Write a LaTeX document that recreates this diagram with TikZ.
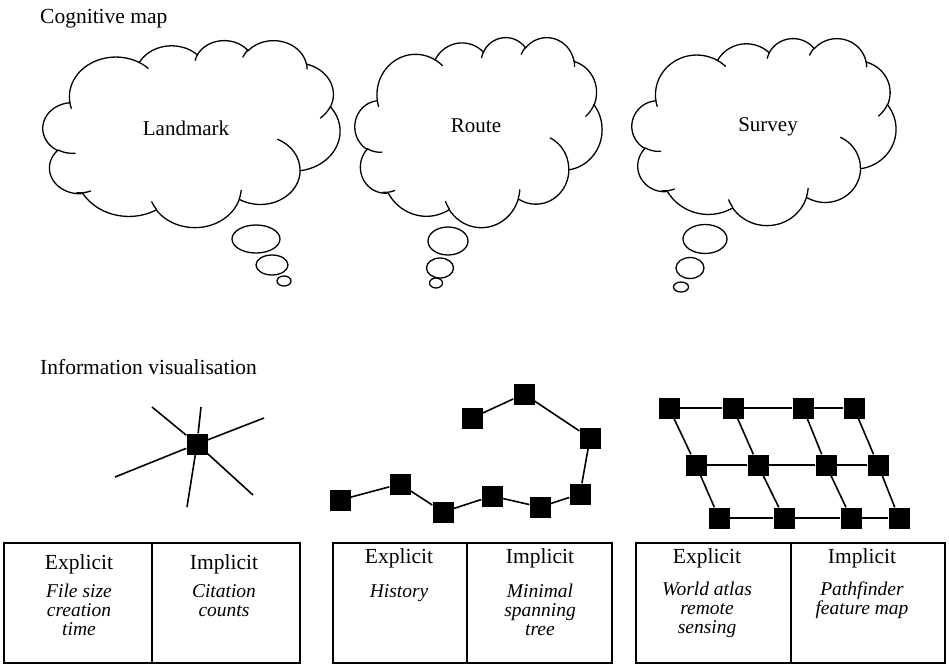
\documentclass[tikz,border=0pt]{standalone}
\usepackage{fontspec}
\setmainfont{Liberation Serif}
% ---------- cloud (office cloud callout geometry, units /10 of 43200) ----------
\newcommand\cldmove[2]{%
  \pgfmathsetmacro\cpx{\cox+#1*\csx}%
  \pgfmathsetmacro\cpy{\coy+#2*\csy}}
\newcommand\cldarc[4]{%
  \pgfmathsetmacro\crx{#1*\csx}%
  \pgfmathsetmacro\cry{#2*\csy}%
  \pgfmathsetmacro\cta{atan2(#1*sin(#3),#2*cos(#3))}%
  \pgfmathsetmacro\ctb{atan2(#1*sin(#3+#4),#2*cos(#3+#4))}%
  \pgfmathsetmacro\cte{\cta+mod(\ctb-\cta+720,360)}%
  \pgfmathsetmacro\ccx{\cpx-\crx*cos(\cta)}%
  \pgfmathsetmacro\ccy{\cpy-\cry*sin(\cta)}%
  \draw[cloudline] plot[domain=\cta:\cte,samples=40] ({\ccx+\crx*cos(\x)},{\ccy+\cry*sin(\x)});%
  \pgfmathsetmacro\cpx{\ccx+\crx*cos(\cte)}%
  \pgfmathsetmacro\cpy{\ccy+\cry*sin(\cte)}}
\newcommand\drawcloud[4]{%
  \def\cox{#1}\def\coy{#2}%
  \pgfmathsetmacro\csx{#3/4320}\pgfmathsetmacro\csy{#4/4320}%
  \cldmove{390.0}{1437.0}%
  \cldarc{675.3}{919.0}{-190.4875}{123.7805}%
  \cldarc{533.3}{726.7}{-144.1024}{89.9452}%
  \cldarc{436.5}{594.5}{-145.8079}{99.7230}%
  \cldarc{485.7}{659.5}{-130.9861}{117.2417}%
  \cldarc{533.3}{727.3}{-78.7089}{109.0269}%
  \cldarc{677.5}{922.0}{-46.2673}{130.2690}%
  \cldarc{578.5}{786.7}{0.6250}{114.0333}%
  \cldarc{675.2}{921.5}{22.4516}{115.1726}%
  \cldarc{772.0}{1054.3}{66.2426}{75.7110}%
  \cldarc{436.0}{591.8}{-274.9421}{146.7356}%
  \cldarc{434.5}{594.5}{-246.8285}{152.5189}%
  \cldmove{469.3}{2617.7}\cldarc{434.5}{594.5}{86.7420}{26.4295}%
  \cldmove{692.8}{3489.9}\cldarc{436.0}{591.8}{73.6033}{20.2039}%
  \cldmove{1647.8}{3909.0}\cldarc{675.2}{921.5}{137.6242}{13.7342}%
  \cldmove{2882.7}{3475.1}\cldarc{675.2}{921.5}{6.4533}{15.9984}%
  \cldmove{3412.9}{2295.4}\cldarc{578.5}{786.7}{-70.2924}{70.9174}%
  \cldmove{4179.8}{1535.4}\cldarc{533.3}{727.3}{30.3180}{27.7515}%
  \cldmove{3832.4}{542.6}\cldarc{485.7}{659.5}{-13.7443}{14.8589}%
  \cldmove{2907.8}{395.2}\cldarc{485.7}{659.5}{-149.1815}{18.1954}%
  \cldmove{2214.1}{472.0}\cldarc{436.5}{594.5}{-163.4943}{17.6864}%
  \cldmove{1400.0}{519.2}\cldarc{675.3}{919.0}{-66.7070}{12.3194}%
  \cldmove{412.7}{1578.9}\cldarc{675.3}{919.0}{157.6544}{11.8582}%
}
\begin{document}
\begin{tikzpicture}[x=1pt,y=-1pt,
  cloudline/.style={line width=1.3pt,line cap=round,line join=round},
  bubble/.style={line width=1.3pt},
  sq/.style={fill=black,draw=none,minimum size=21pt,inner sep=0pt},
  edge/.style={line width=1.6pt},
  spoke/.style={line width=1.6pt},
  tbl/.style={line width=1.6pt},
  title/.style={font=\fontsize{21.5}{21.5}\selectfont,inner sep=0pt,anchor=base west},
  cloudtxt/.style={font=\fontsize{21}{21}\selectfont,inner sep=0pt},
  head/.style={font=\fontsize{21.5}{21.5}\selectfont,inner sep=0pt,anchor=base},
  body/.style={font=\fontsize{19.5}{18.8}\selectfont\itshape,inner sep=0pt,align=center,anchor=base}]
\useasboundingbox (0,0) rectangle (949,664);

% titles
\node[title] (tcog) at (40,23) {Cognitive map};
\node[title] (tinf) at (40,374) {Information visualisation};

% clouds
\drawcloud{43}{40}{297}{187}
\drawcloud{355}{37}{247}{190}
\drawcloud{632}{38}{264}{187}
\node[cloudtxt] (land) at (186,128) {Landmark};
\node[cloudtxt] (route) at (476,126) {Route};
\node[cloudtxt] (surv) at (768,127) {Survey};

% thought bubbles
\draw[bubble] (256,239) ellipse [x radius=24,y radius=14];
\draw[bubble] (272,265) ellipse [x radius=16,y radius=10];
\draw[bubble] (284,281) ellipse [x radius=7,y radius=5];
\draw[bubble] (448,241) ellipse [x radius=20,y radius=14];
\draw[bubble] (440,268) ellipse [x radius=13.5,y radius=10];
\draw[bubble] (436,283) ellipse [x radius=6.5,y radius=5];
\draw[bubble] (705,239) ellipse [x radius=22,y radius=14.5];
\draw[bubble] (690,268) ellipse [x radius=14,y radius=10.5];
\draw[bubble] (681,287) ellipse [x radius=7.5,y radius=5];

% network 1 : star
\node[sq] (hub) at (197,444) {};
\coordinate (s1) at (152,407);
\coordinate (s2) at (201,407);
\coordinate (s3) at (264,418);
\coordinate (s4) at (115,477);
\coordinate (s5) at (187,507);
\coordinate (s6) at (253,495);
\foreach \s in {s1,s2,s3,s4,s5,s6} \draw[spoke] (hub) -- (\s);

% network 2 : path
\node[sq] (pa) at (340,500) {};
\node[sq] (pb) at (400,484) {};
\node[sq] (pc) at (443,512) {};
\node[sq] (pd) at (492,496) {};
\node[sq] (pe) at (540,507) {};
\node[sq] (pf) at (580,494) {};
\node[sq] (pg) at (590,438) {};
\node[sq] (ph) at (524,394) {};
\node[sq] (pi) at (472,418) {};
\draw[edge] (pa) -- (pb) -- (pc) -- (pd) -- (pe) -- (pf) -- (pg) -- (ph) -- (pi);

% network 3 : lattice
\node[sq] (a1) at (669,408) {};
\node[sq] (a2) at (733,408) {};
\node[sq] (a3) at (803,408) {};
\node[sq] (a4) at (854,408) {};
\node[sq] (b1) at (696,465) {};
\node[sq] (b2) at (758,465) {};
\node[sq] (b3) at (826,465) {};
\node[sq] (b4) at (878,465) {};
\node[sq] (c1) at (719,518) {};
\node[sq] (c2) at (784,518) {};
\node[sq] (c3) at (851,518) {};
\node[sq] (c4) at (899,518) {};
\draw[edge] (a1) -- (a2) -- (a3) -- (a4);
\draw[edge] (b1) -- (b2) -- (b3) -- (b4);
\draw[edge] (c1) -- (c2) -- (c3) -- (c4);
\foreach \i in {1,2,3,4} \draw[edge] (a\i) -- (b\i) -- (c\i);

% tables
\draw[tbl] (4,543) rectangle (300,662.8);
\draw[tbl] (152,543) -- (152,662.8);
\draw[tbl] (333,543) rectangle (612,662.8);
\draw[tbl] (467,543) -- (467,662.8);
\draw[tbl] (636,543) rectangle (945,662.8);
\draw[tbl] (791,543) -- (791,662.8);

\node[head] (h1e) at (79,569) {Explicit};
\node[head] (h1i) at (224,569) {Implicit};
\node[body] (b1e) at (79,635) {File size\\creation\\time};
\node[body] (b1i) at (224,616) {Citation\\counts};

\node[head] (h2e) at (399,563) {Explicit};
\node[head] (h2i) at (540,563) {Implicit};
\node[body] (b2e) at (399,597) {History};
\node[body] (b2i) at (540,635) {Minimal\\spanning\\tree};

\node[head] (h3e) at (707,563) {Explicit};
\node[head] (h3i) at (862,563) {Implicit};
\node[body] (b3e) at (707,633) {World atlas\\remote\\sensing};
\node[body] (b3i) at (862,614) {Pathfinder\\feature map};
\end{tikzpicture}
\end{document}
